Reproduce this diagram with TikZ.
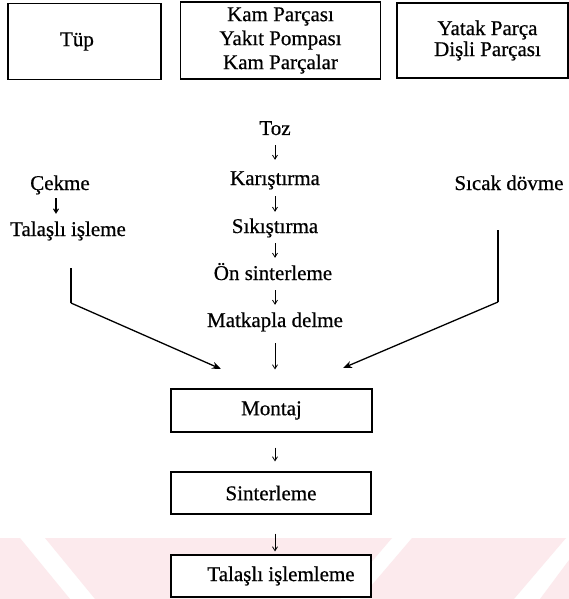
\documentclass[tikz,border=0pt]{standalone}
\usepackage{fontspec}
\setmainfont{Liberation Serif}
\newfontfamily\scanfont{Liberation Serif}[FakeBold=0.6]
\usetikzlibrary{arrows.meta}
\definecolor{wmark}{RGB}{252,234,237}
\begin{document}
\begin{tikzpicture}[x=1pt,y=-1pt,
  txt/.style={font=\scanfont\fontsize{21}{24}\selectfont, inner sep=0pt, text height=14.5pt, text depth=4.5pt},
  topbox/.style={draw, fill=white, line width=1.1pt, inner sep=0pt, align=center},
  procbox/.style={draw, fill=white, line width=1.1pt, minimum width=200pt, minimum height=42pt, inner sep=0pt, font=\scanfont\fontsize{21}{24}\selectfont},
  arr/.style={-{Straight Barb[length=4pt,width=5pt]}, line width=0.8pt},
  diag/.style={line width=1.3pt, -{Stealth[length=9pt,width=7pt]}},
  wm/.style={fill=wmark, draw=none}
]
\useasboundingbox (0,0) rectangle (569,599);
\fill[white] (0,0) rectangle (569,599);
% faint watermark
\fill[wm] (0,538) -- (20,538) -- (70,599) -- (0,599) -- cycle;
\fill[wm] (45,538) -- (392,538) -- (340,599) -- (95,599) -- cycle;
\fill[wm] (412,538) -- (566,538) -- (514,599) -- (360,599) -- cycle;
\fill[wm] (569,560) -- (569,599) -- (540,599) -- cycle;

% top boxes
\node[topbox, minimum width=153pt, minimum height=76pt, font=\scanfont\fontsize{21}{24}\selectfont] (tup) at (84.5,41.5) {T\"up\hspace*{15pt}};
\node[topbox, line width=1.7pt, minimum width=200pt, minimum height=77pt, font=\scanfont\fontsize{21}{24}\selectfont] (kam) at (280.5,40.5) {Kam Parçası\\Yakıt Pompası\\Kam Parçalar};
\node[topbox, minimum width=171pt, minimum height=75pt, font=\scanfont\fontsize{21}{21}\selectfont] (yatak) at (482.5,40.5) {\hspace*{10pt}Yatak Parça\\\hspace*{10pt}Dişli Parçası};

% middle column
\node[txt] (toz) at (275,130) {Toz};
\node[txt] (kar) at (275,180) {Karıştırma};
\node[txt] (sik) at (275,228) {Sıkıştırma};
\node[txt] (on) at (273,275) {Ön sinterleme};
\node[txt] (mat) at (275,322) {Matkapla delme};

% side columns
\node[txt] (cek) at (60,185) {Çekme};
\node[txt] (tal) at (68,231) {Talaşlı işleme};
\node[txt] (sic) at (509,185) {Sıcak dövme};

% process boxes
\node[procbox, minimum width=201pt, minimum height=43pt] (mon) at (271.5,410.5) {Montaj};
\node[procbox] (sin) at (271,493) {Sinterleme};
\node[procbox] (tis) at (271,576) {\hspace*{20pt}Talaşlı işlemleme};

% short arrows
\draw[arr, shorten <=5.5pt, shorten >=10.5pt] (toz.south) -- (kar.north);
\draw[arr, shorten <=6.5pt, shorten >=6.5pt] (kar.south) -- (sik.north);
\draw[arr, shorten <=5.5pt, shorten >=7.5pt] (sik.south) -- (on.north -| sik.south);
\draw[arr, shorten <=5.5pt, shorten >=7.5pt] (on.south -| mat.north) -- (mat.north);
\draw[arr, shorten <=11.5pt, shorten >=19pt] (mat.south) -- (mat.south |- mon.north);
\draw[arr, shorten <=15pt, shorten >=10pt] (mon.south -| mat.south) -- (mat.south |- sin.north);
\draw[arr, shorten <=19pt, shorten >=3pt] (sin.south -| mat.south) -- (mat.south |- tis.north);
\draw[arr, line width=1.1pt, shorten <=3.5pt, shorten >=7.5pt] ([xshift=-4pt]cek.south) -- ([xshift=-4pt]cek.south |- tal.north);

% converging connectors
\coordinate (ls) at (71,268);
\coordinate (lb) at (71,303);
\coordinate (lt) at (221,369);
\coordinate (rs) at (498,230);
\coordinate (rb) at (498,302);
\coordinate (rt) at (343,368);
\draw[line width=1.2pt] (ls) -- (lb);
\draw[diag] (lb) -- (lt);
\draw[line width=1.2pt] (rs) -- (rb);
\draw[diag] (rb) -- (rt);
\end{tikzpicture}
\end{document}
